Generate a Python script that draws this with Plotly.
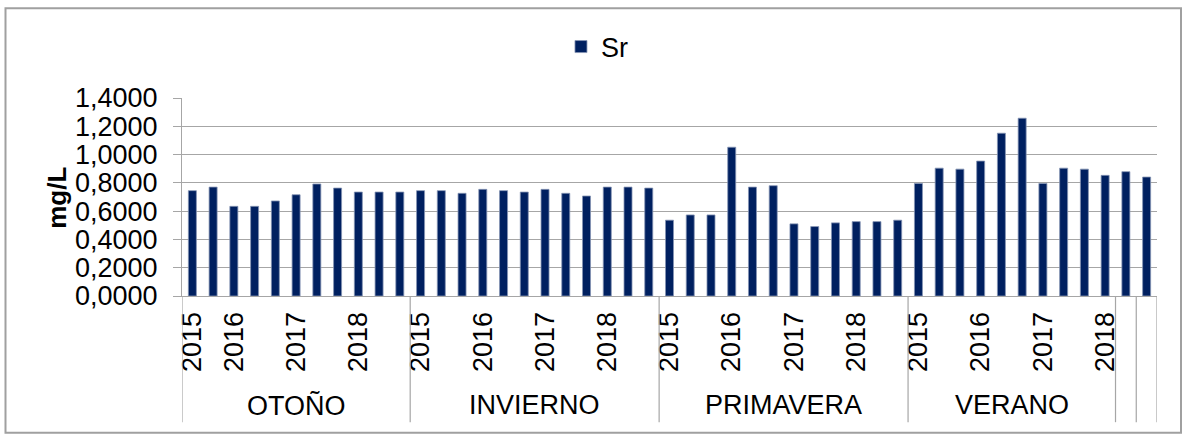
import plotly.graph_objects as go

# ---- data ----
season_names = ["OTOÑO", "INVIERNO", "PRIMAVERA", "VERANO", "", ""]

otono_years = ["2015", "", "2016", "", "", "2017", "", "", "2018", "", ""]
otono_vals = [0.745, 0.770, 0.634, 0.634, 0.672, 0.716, 0.792, 0.763, 0.735, 0.735, 0.735]

invierno_years = ["2015", "", "", "2016", "", "", "2017", "", "", "2018", "", ""]
invierno_vals = [0.745, 0.745, 0.726, 0.754, 0.745, 0.735, 0.754, 0.726, 0.707, 0.770, 0.770, 0.763]

primavera_years = ["2015", "", "", "2016", "", "", "2017", "", "", "2018", "", ""]
primavera_vals = [0.536, 0.573, 0.573, 1.052, 0.770, 0.780, 0.510, 0.491, 0.517, 0.526, 0.526, 0.536]

verano_years = ["2015", "", "", "2016", "", "", "2017", "", "", "2018"]
verano_vals = [0.796, 0.904, 0.897, 0.954, 1.151, 1.257, 0.796, 0.904, 0.897, 0.853]

extra1_years = [""]
extra1_vals = [0.879]
extra2_years = [""]
extra2_vals = [0.841]

y_ticks = [0, 0.2, 0.4, 0.6, 0.8, 1.0, 1.2, 1.4]

groups_years = [otono_years, invierno_years, primavera_years, verano_years, extra1_years, extra2_years]
groups_vals = [otono_vals, invierno_vals, primavera_vals, verano_vals, extra1_vals, extra2_vals]

# ---- build flat series ----
years_flat, vals_flat = [], []
bounds = []  # (start, end) index of each season group
for yrs, vs in zip(groups_years, groups_vals):
    start = len(vals_flat)
    years_flat += yrs
    vals_flat += vs
    bounds.append((start, len(vals_flat) - 1))
xs = list(range(len(vals_flat)))
n = len(xs)

tickvals = [i for i, y in enumerate(years_flat) if y]
ticktext = [years_flat[i] for i in tickvals]

FONT = "Liberation Sans, Arial, sans-serif"
FS = 27
GRID = "#a6a6a6"
W, H = 1186, 435
ML, MR, MT, MB = 182, 29, 98, 138.5
PW, PH = W - ML - MR, H - MT - MB


def px_to_paper_x(px):
    return (px - ML) / PW


def px_to_paper_y(py):
    return (H - MB - py) / PH


fig = go.Figure()
fig.add_trace(go.Bar(
    x=xs, y=vals_flat, name="Sr",
    marker=dict(color="#002060", line=dict(color="#8594b4", width=0.8)),
))

shapes = []
# category separators (extend below the plot)
sep_positions = [bounds[0][0] - 0.5] + [b[1] + 0.5 for b in bounds]
for sx in sep_positions:
    shapes.append(dict(type="line", xref="x", yref="paper", x0=sx, x1=sx,
                       y0=0, y1=px_to_paper_y(423), line=dict(color=GRID, width=1.2)))
# outer chart border
shapes.append(dict(type="rect", xref="paper", yref="paper",
                   x0=px_to_paper_x(5.5), x1=px_to_paper_x(1181),
                   y0=px_to_paper_y(433.5), y1=px_to_paper_y(8),
                   line=dict(color="#a0a0a0", width=2), fillcolor="rgba(0,0,0,0)", layer="below"))

annotations = []
for name, (s, e) in zip(season_names, bounds):
    if name:
        annotations.append(dict(text=name, x=(s + e) / 2, xref="x", y=px_to_paper_y(406), yref="paper",
                                showarrow=False, font=dict(family=FONT, size=FS, color="black"),
                                xanchor="center", yanchor="middle"))
annotations.append(dict(text="<b>mg/L</b>", x=px_to_paper_x(57), xref="paper", y=px_to_paper_y(198), yref="paper",
                        showarrow=False, textangle=-90, font=dict(family=FONT, size=26, color="black"),
                        xanchor="center", yanchor="middle"))

fig.update_layout(
    width=W, height=H,
    margin=dict(l=ML, r=MR, t=MT, b=MB, pad=0),
    paper_bgcolor="white", plot_bgcolor="white",
    separators=",.",
    font=dict(family=FONT, size=FS, color="black"),
    bargap=0.614,
    showlegend=True,
    legend=dict(orientation="h", xref="container", yref="container", x=0.473, y=1 - 47 / H,
                xanchor="left", yanchor="middle", font=dict(family=FONT, size=FS, color="black"),
                bgcolor="rgba(0,0,0,0)"),
    xaxis=dict(range=[-0.5, n - 0.5], tickmode="array", tickvals=tickvals, ticktext=ticktext,
               tickangle=-90, ticks="", showgrid=False, zeroline=False,
               showline=True, linecolor=GRID, linewidth=1.2, ticklabelstandoff=4,
               tickfont=dict(family=FONT, size=FS, color="black")),
    yaxis=dict(range=[0, 1.4], tickmode="array", tickvals=y_ticks, tickformat=".4f",
               showgrid=True, gridcolor=GRID, gridwidth=1.2, zeroline=False,
               showline=True, linecolor=GRID, linewidth=1.2,
               ticks="outside", ticklen=8, tickcolor=GRID, ticklabelstandoff=10,
               tickfont=dict(family=FONT, size=FS, color="black")),
    shapes=shapes, annotations=annotations,
)

fig.write_html("out.html", config={"displayModeBar": False},
               post_script="document.body.style.margin='0';document.body.style.padding='0';")
